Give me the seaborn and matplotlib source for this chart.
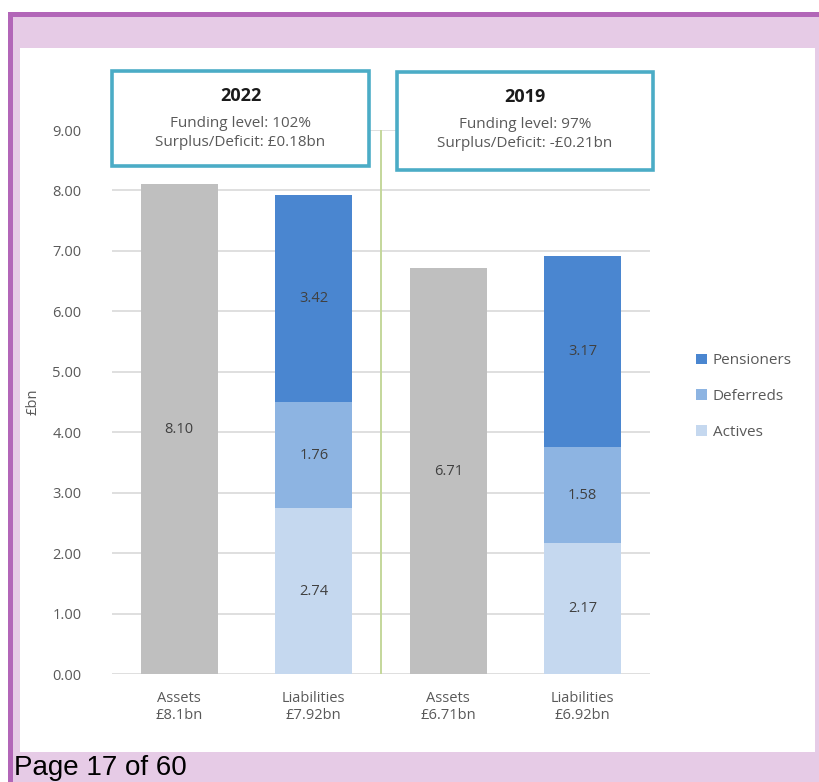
import pandas as pd
import matplotlib.pyplot as plt
import seaborn as sns
from matplotlib.patches import Rectangle, Patch

# chart values
bar_labels = ['Assets\n£8.1bn', 'Liabilities\n£7.92bn', 'Assets\n£6.71bn', 'Liabilities\n£6.92bn']
asset_bars = ['Assets\n£8.1bn', 'Assets\n£6.71bn']
asset_values = [8.10, 6.71]
liab_bars = ['Liabilities\n£7.92bn', 'Liabilities\n£6.92bn']
actives = [2.74, 2.17]
deferreds = [1.76, 1.58]
pensioners = [3.42, 3.17]
series_names = ['Pensioners', 'Deferreds', 'Actives']
box_titles = ['2022', '2019']
box_lines = ['Funding level: 102%\nSurplus/Deficit: £0.18bn',
             'Funding level: 97%\nSurplus/Deficit: -£0.21bn']

grey = '#BFBFBF'
c_act = '#C5D8EF'
c_def = '#8DB4E2'
c_pen = '#4A86D0'
txt = '#595959'

W, H = 819, 782

sns.set_theme(style='white')
plt.rcParams['font.family'] = ['Open Sans', 'DejaVu Sans']

fig = plt.figure(figsize=(W / 100, H / 100), dpi=100)
fig.patch.set_facecolor('white')


def frect(x0, y0, x1, y1, **kw):
    r = Rectangle((x0 / W, 1 - y1 / H), (x1 - x0) / W, (y1 - y0) / H,
                  transform=fig.transFigure, **kw)
    fig.add_artist(r)
    return r


# page background
frect(8, 12, W, H, facecolor='#E6CBE6', edgecolor='none', zorder=-10)
frect(8, 12, W, 17, facecolor='#B266B8', edgecolor='none', zorder=-9)
frect(8, 12, 13, H, facecolor='#B266B8', edgecolor='none', zorder=-9)
frect(20, 48, 815, 752, facecolor='white', edgecolor='none', zorder=-8)

ax = fig.add_axes([112 / W, 1 - 674 / H, 538 / W, 544 / H])
ax.set_facecolor('none')

liab_df = pd.DataFrame({
    'bar': liab_bars,
    'act': actives,
    'def_top': [a + d for a, d in zip(actives, deferreds)],
    'pen_top': [a + d + p for a, d, p in zip(actives, deferreds, pensioners)],
})
asset_df = pd.DataFrame({'bar': asset_bars, 'value': asset_values})

bw = 0.57
common = dict(order=bar_labels, width=bw, saturation=1, ax=ax, zorder=2, linewidth=0)
sns.barplot(data=asset_df, x='bar', y='value', color=grey, **common)
sns.barplot(data=liab_df, x='bar', y='pen_top', color=c_pen, **common)
sns.barplot(data=liab_df, x='bar', y='def_top', color=c_def, **common)
sns.barplot(data=liab_df, x='bar', y='act', color=c_act, **common)

# value labels
lab_kw = dict(ha='center', va='center', fontsize=10.5, color='#404040', zorder=5)
for name, v in zip(asset_bars, asset_values):
    ax.text(bar_labels.index(name), v / 2, f'{v:.2f}', **lab_kw)
for i, name in enumerate(liab_bars):
    x = bar_labels.index(name)
    a, d, p = actives[i], deferreds[i], pensioners[i]
    ax.text(x, a / 2, f'{a:.2f}', **lab_kw)
    ax.text(x, a + d / 2, f'{d:.2f}', **lab_kw)
    ax.text(x, a + d + p / 2, f'{p:.2f}', **lab_kw)

ax.set_xlim(-0.5, 3.5)
ax.set_ylim(0, 9)
ax.set_yticks([i for i in range(10)])
ax.set_yticklabels([f'{i:.2f}' for i in range(10)])
ax.yaxis.grid(True, color='#D9D9D9', linewidth=1.2, zorder=0)
ax.set_axisbelow(True)
for s in ax.spines.values():
    s.set_visible(False)
ax.tick_params(axis='both', length=0, labelsize=10.5, labelcolor=txt)
ax.tick_params(axis='x', pad=12)
ax.tick_params(axis='y', pad=22)
ax.set_xlabel('')
ax.set_ylabel('£bn', fontsize=10.5, color=txt)
ax.yaxis.set_label_coords((40 - 112) / 538, 0.5)

# divider between the two valuations
ax.plot([1.5, 1.5], [0, 9], color='#C4D79B', linewidth=1.4, zorder=1)

# header boxes
boxes = [(112, 71, 369, 166), (397, 72, 653, 170)]
for (x0, y0, x1, y1), t, lines in zip(boxes, box_titles, box_lines):
    frect(x0, y0, x1, y1, facecolor='white', edgecolor='#4BACC6', linewidth=2.6, zorder=6)
    cx = (x0 + x1) / 2 / W
    fig.text(cx, 1 - (y0 + 25) / H, t, ha='center', va='center', fontsize=13,
             fontweight='bold', color='#1A1A1A', zorder=7)
    fig.text(cx, 1 - (y0 + 62) / H, lines, ha='center', va='center', fontsize=11,
             color=txt, linespacing=1.3, zorder=7)

handles = [Patch(facecolor=c, edgecolor='none') for c in [c_pen, c_def, c_act]]
ax.legend(handles, series_names, loc='center left', bbox_to_anchor=(1.06, 0.51),
          frameon=False, fontsize=11, labelcolor=txt, handlelength=0.7,
          handleheight=0.7, handletextpad=0.4, labelspacing=1.35)

fig.text(14 / W, 1 - 768 / H, 'Page 17 of 60', ha='left', va='center',
         fontsize=20, color='black', family='Liberation Sans')

fig.savefig('out.png', dpi=100, facecolor=fig.get_facecolor())
